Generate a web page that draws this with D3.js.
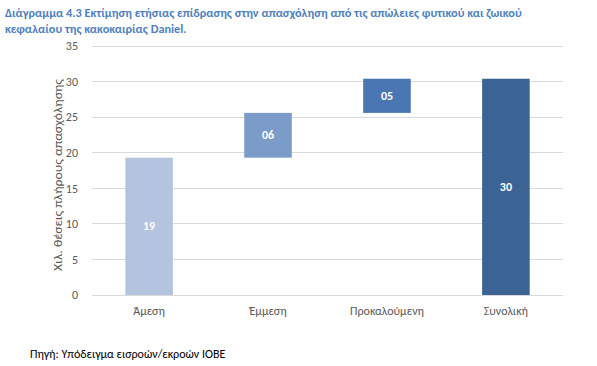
<!DOCTYPE html>
<html><head><meta charset="utf-8">
<script src="https://cdn.jsdelivr.net/npm/d3@7"></script>
<style>body{margin:0;background:#fff;} svg{display:block;}</style>
</head><body>
<svg id="c" width="597" height="366"></svg>
<script>
const categories = ["Άμεση", "Έμμεση", "Προκαλούμενη", "Συνολική"];
const values = [19.3, 6.3, 4.8, 30.4];
const isTotal = [false, false, false, true];
const labels = ["19", "06", "05", "30"];
const colors = ["#b4c3de", "#7b9cc8", "#4a77b3", "#3b6494"];
const yTicks = [0, 5, 10, 15, 20, 25, 30, 35];
const titleLines = ["Διάγραμμα 4.3 Εκτίμηση ετήσιας επίδρασης στην απασχόληση από τις απώλειες φυτικού και ζωικού", "κεφαλαίου της κακοκαιρίας Daniel."];
const yTitle = "Χιλ. θέσεις πλήρους απασχόλησης";
const source = "Πηγή: Υπόδειγμα εισροών/εκροών ΙΟΒΕ";

(function(){
const svg = d3.select("#c");
const font = "Calibri, Carlito, 'Liberation Sans Narrow', 'Open Sans', sans-serif";
const pLeft = 92, pRight = 563, pTop = 46, pBottom = 295;

const x = d3.scaleBand().domain(categories).range([pLeft, pRight]).paddingInner(0.6).paddingOuter(0.28);
const y = d3.scaleLinear().domain([0, 35]).range([pBottom, pTop]);

svg.selectAll("text.title").data(titleLines).enter().append("text")
  .attr("class","title")
  .attr("x", 5).attr("y", (d,i)=>17 + i*16)
  .attr("font-family", font).attr("font-weight", "bold").attr("font-size", 12.3)
  .attr("fill", "#4f81bd")
  .text(d=>d);

svg.append("g").selectAll("line").data(yTicks).enter().append("line")
  .attr("x1", pLeft).attr("x2", pRight)
  .attr("y1", d=>y(d)).attr("y2", d=>y(d))
  .attr("stroke", "#d9d9d9").attr("stroke-width", 1).attr("shape-rendering","crispEdges");

const yAxis = svg.append("g").attr("transform", `translate(${pLeft},0)`)
  .call(d3.axisLeft(y).tickValues(yTicks).tickSize(0).tickPadding(14));
yAxis.select(".domain").remove();
yAxis.selectAll("text").attr("font-family", font).attr("font-size", 12).attr("fill", "#595959");

svg.append("text")
  .attr("transform", `translate(62,175) rotate(-90)`)
  .attr("text-anchor", "middle")
  .attr("font-family", font).attr("font-size", 13).attr("fill", "#595959")
  .attr("textLength", 192).attr("lengthAdjust", "spacingAndGlyphs")
  .text(yTitle);

let cum = 0;
const bars = categories.map((c,i)=>{
  let base, topv;
  if (isTotal[i]) { base = 0; topv = values[i]; }
  else { base = cum; topv = cum + values[i]; cum = topv; }
  return {c, base, topv, label: labels[i], color: colors[i]};
});

svg.append("g").selectAll("rect").data(bars).enter().append("rect")
  .attr("x", d=>x(d.c)).attr("width", x.bandwidth())
  .attr("y", d=>y(d.topv)).attr("height", d=>y(d.base)-y(d.topv))
  .attr("fill", d=>d.color);

svg.append("g").selectAll("text").data(bars).enter().append("text")
  .attr("x", d=>x(d.c)+x.bandwidth()/2)
  .attr("y", d=>(y(d.base)+y(d.topv))/2 + 4)
  .attr("text-anchor","middle")
  .attr("font-family", font).attr("font-weight","bold").attr("font-size", 12)
  .attr("fill","#fff")
  .text(d=>d.label);

const xAxis = svg.append("g").attr("transform", `translate(0,${pBottom})`)
  .call(d3.axisBottom(x).tickSize(0).tickPadding(11));
xAxis.select(".domain").remove();
xAxis.selectAll("text").attr("font-family", font).attr("font-size", 12).attr("fill", "#595959");

svg.append("text").attr("x", 30).attr("y", 358)
  .attr("font-family", font).attr("font-size", 12).attr("fill", "#000")
  .text(source);
})();
</script>
</body></html>
